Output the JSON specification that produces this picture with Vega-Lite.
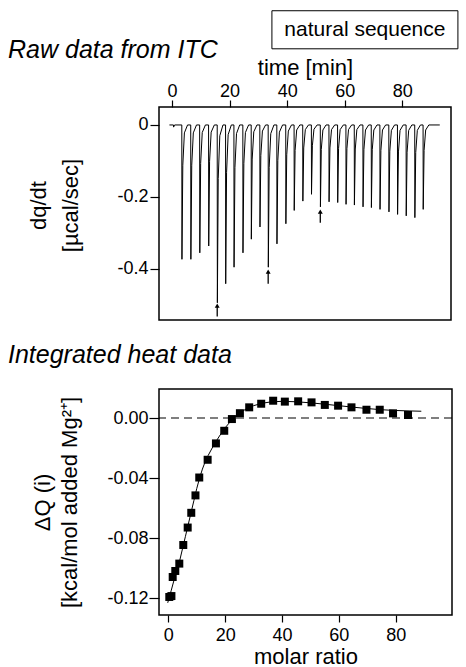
{
  "$schema": "https://vega.github.io/schema/vega-lite/v6.json",
  "padding": {"left": 7, "top": 9, "right": 4, "bottom": 2},
  "spacing": 21,
  "config": {
    "font": "Liberation Sans",
    "locale": {"number": {"decimal": ".", "thousands": ",", "grouping": [3], "currency": ["$", ""], "minus": "-"}},
    "view": {"stroke": "#000", "strokeWidth": 1.5},
    "axis": {"domain": false, "grid": false, "labelFont": "Liberation Sans", "labelFontSize": 18, "labelColor": "#000", "titleFont": "Liberation Sans", "titleFontSize": 22, "titleFontWeight": "normal", "titleColor": "#000", "tickColor": "#000", "tickWidth": 1.2, "tickSize": 7},
    "title": {"font": "Liberation Sans", "fontSize": 25, "fontStyle": "italic", "fontWeight": "normal", "color": "#000", "anchor": "start"}
  },
  "datasets": {
    "trace": [
      {"time": -0.9, "dq": 0}, {"time": 0.5, "dq": 0}, {"time": 0.55, "dq": -0.006}, {"time": 0.9, "dq": 0},
      {"time": 3.4, "dq": 0}, {"time": 3.45, "dq": -0.374}, {"time": 3.75, "dq": -0.112}, {"time": 4.3, "dq": -0.022}, {"time": 5.4, "dq": 0},
      {"time": 6.5, "dq": 0}, {"time": 6.55, "dq": -0.374}, {"time": 6.85, "dq": -0.112}, {"time": 7.4, "dq": -0.022}, {"time": 8.5, "dq": 0},
      {"time": 9.6, "dq": 0}, {"time": 9.65, "dq": -0.356}, {"time": 9.95, "dq": -0.107}, {"time": 10.5, "dq": -0.021}, {"time": 11.6, "dq": 0},
      {"time": 12.7, "dq": 0}, {"time": 12.75, "dq": -0.337}, {"time": 13.05, "dq": -0.101}, {"time": 13.6, "dq": -0.02}, {"time": 14.7, "dq": 0},
      {"time": 15.7, "dq": 0}, {"time": 15.75, "dq": -0.495}, {"time": 16.05, "dq": -0.149}, {"time": 16.6, "dq": -0.03}, {"time": 17.7, "dq": 0},
      {"time": 18.6, "dq": 0}, {"time": 18.65, "dq": -0.442}, {"time": 18.95, "dq": -0.133}, {"time": 19.5, "dq": -0.027}, {"time": 20.6, "dq": 0},
      {"time": 21.5, "dq": 0}, {"time": 21.55, "dq": -0.396}, {"time": 21.85, "dq": -0.119}, {"time": 22.4, "dq": -0.024}, {"time": 23.5, "dq": 0},
      {"time": 24.6, "dq": 0}, {"time": 24.65, "dq": -0.356}, {"time": 24.95, "dq": -0.107}, {"time": 25.5, "dq": -0.021}, {"time": 26.6, "dq": 0},
      {"time": 27.5, "dq": 0}, {"time": 27.55, "dq": -0.318}, {"time": 27.85, "dq": -0.095}, {"time": 28.4, "dq": -0.019}, {"time": 29.5, "dq": 0},
      {"time": 30.5, "dq": 0}, {"time": 30.55, "dq": -0.284}, {"time": 30.85, "dq": -0.085}, {"time": 31.4, "dq": -0.017}, {"time": 32.5, "dq": 0},
      {"time": 33.4, "dq": 0}, {"time": 33.45, "dq": -0.396}, {"time": 33.75, "dq": -0.119}, {"time": 34.3, "dq": -0.024}, {"time": 35.4, "dq": 0},
      {"time": 36.4, "dq": 0}, {"time": 36.45, "dq": -0.331}, {"time": 36.75, "dq": -0.099}, {"time": 37.3, "dq": -0.02}, {"time": 38.4, "dq": 0},
      {"time": 39.5, "dq": 0}, {"time": 39.55, "dq": -0.275}, {"time": 39.85, "dq": -0.083}, {"time": 40.4, "dq": -0.017}, {"time": 41.5, "dq": 0},
      {"time": 42.4, "dq": 0}, {"time": 42.45, "dq": -0.238}, {"time": 42.75, "dq": -0.071}, {"time": 43.3, "dq": -0.014}, {"time": 44.4, "dq": 0},
      {"time": 45.4, "dq": 0}, {"time": 45.45, "dq": -0.212}, {"time": 45.75, "dq": -0.064}, {"time": 46.3, "dq": -0.013}, {"time": 47.4, "dq": 0},
      {"time": 48.4, "dq": 0}, {"time": 48.45, "dq": -0.193}, {"time": 48.75, "dq": -0.058}, {"time": 49.3, "dq": -0.012}, {"time": 50.4, "dq": 0},
      {"time": 51.5, "dq": 0}, {"time": 51.55, "dq": -0.228}, {"time": 51.85, "dq": -0.068}, {"time": 52.4, "dq": -0.014}, {"time": 53.5, "dq": 0},
      {"time": 54.5, "dq": 0}, {"time": 54.55, "dq": -0.214}, {"time": 54.85, "dq": -0.064}, {"time": 55.4, "dq": -0.013}, {"time": 56.5, "dq": 0},
      {"time": 57.5, "dq": 0}, {"time": 57.55, "dq": -0.216}, {"time": 57.85, "dq": -0.065}, {"time": 58.4, "dq": -0.013}, {"time": 59.5, "dq": 0},
      {"time": 60.4, "dq": 0}, {"time": 60.45, "dq": -0.221}, {"time": 60.75, "dq": -0.066}, {"time": 61.3, "dq": -0.013}, {"time": 62.4, "dq": 0},
      {"time": 63.3, "dq": 0}, {"time": 63.35, "dq": -0.223}, {"time": 63.65, "dq": -0.067}, {"time": 64.2, "dq": -0.013}, {"time": 65.3, "dq": 0},
      {"time": 66.3, "dq": 0}, {"time": 66.35, "dq": -0.228}, {"time": 66.65, "dq": -0.068}, {"time": 67.2, "dq": -0.014}, {"time": 68.3, "dq": 0},
      {"time": 69.2, "dq": 0}, {"time": 69.25, "dq": -0.23}, {"time": 69.55, "dq": -0.069}, {"time": 70.1, "dq": -0.014}, {"time": 71.2, "dq": 0},
      {"time": 72.2, "dq": 0}, {"time": 72.25, "dq": -0.235}, {"time": 72.55, "dq": -0.071}, {"time": 73.1, "dq": -0.014}, {"time": 74.2, "dq": 0},
      {"time": 75.3, "dq": 0}, {"time": 75.35, "dq": -0.242}, {"time": 75.65, "dq": -0.073}, {"time": 76.2, "dq": -0.015}, {"time": 77.3, "dq": 0},
      {"time": 78.3, "dq": 0}, {"time": 78.35, "dq": -0.249}, {"time": 78.65, "dq": -0.075}, {"time": 79.2, "dq": -0.015}, {"time": 80.3, "dq": 0},
      {"time": 81.3, "dq": 0}, {"time": 81.35, "dq": -0.253}, {"time": 81.65, "dq": -0.076}, {"time": 82.2, "dq": -0.015}, {"time": 83.3, "dq": 0},
      {"time": 84.3, "dq": 0}, {"time": 84.35, "dq": -0.258}, {"time": 84.65, "dq": -0.077}, {"time": 85.2, "dq": -0.015}, {"time": 86.3, "dq": 0},
      {"time": 87.2, "dq": 0}, {"time": 87.25, "dq": -0.235}, {"time": 87.55, "dq": -0.071}, {"time": 88.1, "dq": -0.014}, {"time": 89.2, "dq": 0},
      {"time": 93, "dq": 0}
    ],
    "arrows": [
      {"time": 15.7, "head": -0.503, "tail": -0.533},
      {"time": 33.4, "head": -0.408, "tail": -0.442},
      {"time": 51.5, "head": -0.241, "tail": -0.272}
    ],
    "heat": [
      {"ratio": 0.35, "dQ": -0.1191}, {"ratio": 1.1, "dQ": -0.1185}, {"ratio": 1.55, "dQ": -0.1058}, {"ratio": 2.46, "dQ": -0.1018},
      {"ratio": 3.87, "dQ": -0.0969}, {"ratio": 5.27, "dQ": -0.0845}, {"ratio": 6.82, "dQ": -0.0729}, {"ratio": 8.08, "dQ": -0.0631},
      {"ratio": 9.56, "dQ": -0.0515}, {"ratio": 10.89, "dQ": -0.0396}, {"ratio": 13.84, "dQ": -0.0278}, {"ratio": 16.76, "dQ": -0.0169},
      {"ratio": 19.68, "dQ": -0.0085}, {"ratio": 22.38, "dQ": -0.0007}, {"ratio": 25.19, "dQ": 0.0032}, {"ratio": 28.46, "dQ": 0.0071},
      {"ratio": 32.68, "dQ": 0.0095}, {"ratio": 36.89, "dQ": 0.0115}, {"ratio": 41.0, "dQ": 0.0109}, {"ratio": 45.68, "dQ": 0.0111},
      {"ratio": 50.39, "dQ": 0.0104}, {"ratio": 55.06, "dQ": 0.0087}, {"ratio": 59.73, "dQ": 0.0082}, {"ratio": 64.44, "dQ": 0.0071},
      {"ratio": 69.71, "dQ": 0.0055}, {"ratio": 74.38, "dQ": 0.0055}, {"ratio": 79.06, "dQ": 0.0031}, {"ratio": 84.33, "dQ": 0.002}
    ],
    "fit": [
      {"ratio": -0.2, "dQ": -0.123}, {"ratio": 1, "dQ": -0.115}, {"ratio": 2, "dQ": -0.108}, {"ratio": 3, "dQ": -0.101},
      {"ratio": 4, "dQ": -0.095}, {"ratio": 5, "dQ": -0.087}, {"ratio": 6, "dQ": -0.079}, {"ratio": 7, "dQ": -0.071},
      {"ratio": 8, "dQ": -0.063}, {"ratio": 9, "dQ": -0.055}, {"ratio": 10, "dQ": -0.047}, {"ratio": 11, "dQ": -0.04},
      {"ratio": 12, "dQ": -0.034}, {"ratio": 13, "dQ": -0.029}, {"ratio": 14, "dQ": -0.025}, {"ratio": 16, "dQ": -0.018},
      {"ratio": 18, "dQ": -0.012}, {"ratio": 20, "dQ": -0.0065}, {"ratio": 22, "dQ": -0.002}, {"ratio": 24, "dQ": 0.0018},
      {"ratio": 26, "dQ": 0.0045}, {"ratio": 28, "dQ": 0.0066}, {"ratio": 30, "dQ": 0.0082}, {"ratio": 33, "dQ": 0.0098},
      {"ratio": 36, "dQ": 0.0107}, {"ratio": 40, "dQ": 0.0111}, {"ratio": 45, "dQ": 0.0108}, {"ratio": 50, "dQ": 0.0101},
      {"ratio": 55, "dQ": 0.0092}, {"ratio": 60, "dQ": 0.0082}, {"ratio": 65, "dQ": 0.0072}, {"ratio": 70, "dQ": 0.0063},
      {"ratio": 75, "dQ": 0.0055}, {"ratio": 80, "dQ": 0.005}, {"ratio": 85, "dQ": 0.0047}, {"ratio": 89, "dQ": 0.0045}
    ]
  },
  "vconcat": [
    {
      "width": 292,
      "height": 213,
      "layer": [
        {
          "data": {"name": "trace"},
          "mark": {"type": "line", "color": "#000", "strokeWidth": 1},
          "encoding": {
            "x": {"field": "time", "type": "quantitative", "scale": {"domain": [-4.52, 96.9], "nice": false, "zero": false},
                  "axis": {"orient": "top", "values": [0, 20, 40, 60, 80], "format": "d", "title": "time [min]", "labelPadding": 0, "titlePadding": 3, "tickSize": 7}},
            "y": {"field": "dq", "type": "quantitative", "scale": {"domain": [-0.543, 0.05], "nice": false, "zero": false},
                  "axis": {"values": [0, -0.2, -0.4], "format": "~g", "title": ["dq/dt", "[µcal/sec]"], "titlePadding": 34, "titleLineHeight": 32, "titleY": 98, "tickSize": 9, "labelPadding": 2}}
          }
        },
        {
          "data": {"name": "arrows"},
          "mark": {"type": "rule", "color": "#000", "strokeWidth": 1.3},
          "encoding": {
            "x": {"field": "time", "type": "quantitative"},
            "y": {"field": "tail", "type": "quantitative"},
            "y2": {"field": "head"}
          }
        },
        {
          "data": {"name": "arrows"},
          "mark": {"type": "point", "shape": "triangle-up", "filled": true, "color": "#000", "size": 24, "opacity": 1},
          "encoding": {
            "x": {"field": "time", "type": "quantitative"},
            "y": {"field": "head", "type": "quantitative"}
          }
        },
        {
          "data": {"values": [{}]},
          "mark": {"type": "rect", "color": "#000", "fillOpacity": 0, "stroke": "#000", "strokeWidth": 1},
          "encoding": {
            "x": {"datum": 34.7}, "x2": {"datum": 99.3},
            "y": {"datum": 0.318}, "y2": {"datum": 0.212}
          }
        },
        {
          "data": {"values": [{}]},
          "mark": {"type": "text", "fontSize": 21, "color": "#000", "align": "center", "baseline": "middle", "font": "Liberation Sans"},
          "encoding": {
            "x": {"datum": 67}, "y": {"datum": 0.265},
            "text": {"value": "natural sequence"}
          }
        },
        {
          "data": {"values": [{}]},
          "mark": {"type": "text", "fontSize": 25, "fontStyle": "italic", "color": "#000", "align": "left", "baseline": "alphabetic", "font": "Liberation Sans"},
          "encoding": {
            "x": {"datum": -56.96}, "y": {"datum": 0.1865},
            "text": {"value": "Raw data from ITC"}
          }
        }
      ]
    },
    {
      "width": 293,
      "height": 226,
      "title": {"text": "Integrated heat data", "frame": "group", "dx": -151, "offset": 21},
      "layer": [
        {
          "data": {"name": "fit"},
          "mark": {"type": "line", "color": "#000", "strokeWidth": 1},
          "encoding": {
            "x": {"field": "ratio", "type": "quantitative", "scale": {"domain": [-3.27, 99.8], "nice": false, "zero": false},
                  "axis": {"values": [0, 20, 40, 60, 80], "format": "d", "title": "molar ratio", "tickSize": 7, "labelPadding": 4, "titlePadding": 2}},
            "y": {"field": "dQ", "type": "quantitative", "scale": {"domain": [-0.1311, 0.0193], "nice": false, "zero": false},
                  "axis": {"values": [0, -0.02, -0.04, -0.06, -0.08, -0.1, -0.12],
                           "labelExpr": "abs(round(datum.value*100)) % 4 == 0 ? format(datum.value, '.2f') : ''",
                           "tickSize": {"condition": {"test": "abs(round(datum.value*100)) % 4 == 0", "value": 10}, "value": 6},
                           "labelPadding": 1, "title": ["ΔQ (i)", "[kcal/mol added Mg²⁺]"], "titlePadding": 25, "titleLineHeight": 27}}
          }
        },
        {
          "data": {"values": [{}]},
          "mark": {"type": "rule", "strokeDash": [8, 5], "color": "#000", "strokeWidth": 1.2},
          "encoding": {"y": {"datum": 0}}
        },
        {
          "data": {"name": "heat"},
          "mark": {"type": "point", "shape": "square", "filled": true, "size": 64, "color": "#000", "opacity": 1},
          "encoding": {
            "x": {"field": "ratio", "type": "quantitative"},
            "y": {"field": "dQ", "type": "quantitative"}
          }
        }
      ]
    }
  ]
}
